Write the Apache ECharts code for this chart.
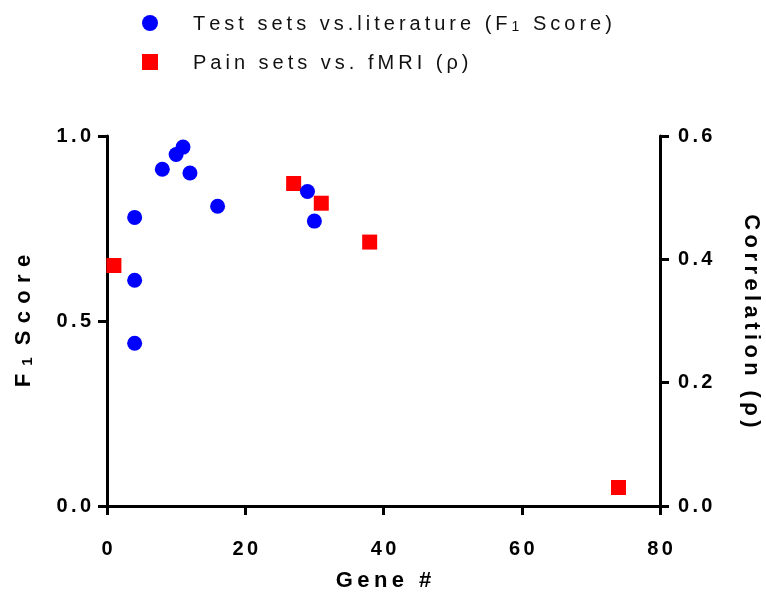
<!DOCTYPE html>
<html>
<head>
<meta charset="utf-8">
<script src="https://cdn.jsdelivr.net/npm/echarts@6/dist/echarts.min.js"></script>
<style>
html,body{margin:0;padding:0;background:#fff;}
#main{width:766px;height:593px;}
</style>
</head>
<body>
<div id="main"></div>
<script>
// F1 score (left axis) vs gene #
var testX = [4, 4, 4, 8, 10, 11, 12, 16, 29, 30];
var testY = [0.78, 0.61, 0.44, 0.91, 0.95, 0.97, 0.90, 0.81, 0.85, 0.77];
// correlation rho (right axis) vs gene #
var painX = [1, 27, 31, 38, 74];
var painY = [0.39, 0.523, 0.491, 0.428, 0.03];

var xTicks = [0, 20, 40, 60, 80];
var leftTicks = [0, 0.5, 1.0];
var rightTicks = [0, 0.2, 0.4, 0.6];

var seriesNames = ['Test sets vs.literature (F1 Score)', 'Pain sets vs. fMRI (ρ)'];

// spaced-out letters like the original figure
function sp(s, gap){
    return s.split('').join(gap);
}
var THIN = '\u2009', SIXTH = '\u2006', THIRD = '\u2004';

function pairs(xs, ys){
    var out = [];
    for (var i = 0; i < xs.length; i++) {
        out.push([xs[i], ys[i]]);
    }
    return out;
}

var chart = echarts.init(document.getElementById('main'), null, {renderer: 'canvas'});

var FONT = 'Liberation Sans, Arial, sans-serif';
var tickLabel = {
    color: '#000',
    fontFamily: FONT,
    fontWeight: 'bold',
    fontSize: 20
};
var titleStyle = {
    color: '#000',
    fontFamily: FONT,
    fontWeight: 'bold',
    fontSize: 22
};
var axisLine = {show: true, lineStyle: {color: '#000', width: 3}};
var axisTick = {show: true, inside: false, length: 9, lineStyle: {color: '#000', width: 3}};

var option = {
    animation: false,
    backgroundColor: '#fff',
    grid: {left: 107, right: 106, top: 136, bottom: 87, containLabel: false, outerBoundsMode: 'none'},
    legend: {
        orient: 'vertical',
        left: 137,
        top: 9,
        itemWidth: 16,
        itemHeight: 16,
        itemGap: 19,
        data: [
            {name: seriesNames[0], icon: 'circle'},
            {name: seriesNames[1], icon: 'rect'}
        ],
        formatter: function(name){
            if (name == seriesNames[0]) {
                return '{t|' + sp('Test sets vs.literature (F', THIN) + THIN + '}{s|1}{t|' + THIN + sp(' Score)', THIN) + '}';
            }
            return '{t|' + sp('Pain sets vs. fMRI (ρ)', THIN) + '}';
        },
        textStyle: {
            color: '#111',
            fontFamily: FONT,
            fontSize: 20,
            padding: [0, 0, 4, 30],
            rich: {
                t: {fontSize: 20, fontFamily: FONT, color: '#111', lineHeight: 26, verticalAlign: 'bottom'},
                s: {fontSize: 14, fontFamily: FONT, color: '#111', lineHeight: 13, verticalAlign: 'bottom'}
            }
        }
    },
    xAxis: {
        type: 'value',
        min: xTicks[0],
        max: xTicks[xTicks.length - 1],
        interval: 20,
        name: '{t|' + sp('Gene #', THIN) + '}',
        nameLocation: 'middle',
        nameGap: 64,
        nameTextStyle: {rich: {t: titleStyle}},
        splitLine: {show: false},
        axisLine: axisLine,
        axisTick: axisTick,
        axisLabel: Object.assign({margin: 33, formatter: function(v){ return sp(String(v), SIXTH); }}, tickLabel)
    },
    yAxis: [
        {
            type: 'value',
            position: 'left',
            min: leftTicks[0],
            max: leftTicks[leftTicks.length - 1],
            interval: 0.5,
            name: '{t|F}' + THIRD + THIRD + '{s|1}' + THIRD + THIRD + THIRD + '{t|' + sp('Score', THIRD) + '}',
            nameLocation: 'middle',
            nameRotate: 90,
            nameGap: 72,
            nameTextStyle: {
                rich: {
                    t: titleStyle,
                    s: {color: '#000', fontFamily: FONT, fontWeight: 'bold', fontSize: 15, verticalAlign: 'bottom', lineHeight: 17}
                }
            },
            splitLine: {show: false},
            axisLine: axisLine,
            axisTick: axisTick,
            axisLabel: Object.assign({margin: 16, formatter: function(v){ return sp(v.toFixed(1), SIXTH); }}, tickLabel)
        },
        {
            type: 'value',
            position: 'right',
            min: rightTicks[0],
            max: rightTicks[rightTicks.length - 1],
            interval: 0.2,
            name: '{t|' + sp('Correlation (ρ)', THIN) + '}',
            nameLocation: 'middle',
            nameRotate: -90,
            nameGap: 80,
            nameTextStyle: {rich: {t: titleStyle}},
            splitLine: {show: false},
            axisLine: axisLine,
            axisTick: axisTick,
            axisLabel: Object.assign({margin: 18, formatter: function(v){ return sp(v.toFixed(1), SIXTH); }}, tickLabel)
        }
    ],
    series: [
        {
            name: seriesNames[1],
            type: 'scatter',
            yAxisIndex: 1,
            symbol: 'rect',
            symbolSize: 15,
            itemStyle: {color: '#ff0000', opacity: 1},
            data: pairs(painX, painY)
        },
        {
            name: seriesNames[0],
            type: 'scatter',
            yAxisIndex: 0,
            symbol: 'circle',
            symbolSize: 15,
            itemStyle: {color: '#0000ff', opacity: 1},
            data: pairs(testX, testY)
        }
    ]
};

chart.setOption(option);
</script>
</body>
</html>
